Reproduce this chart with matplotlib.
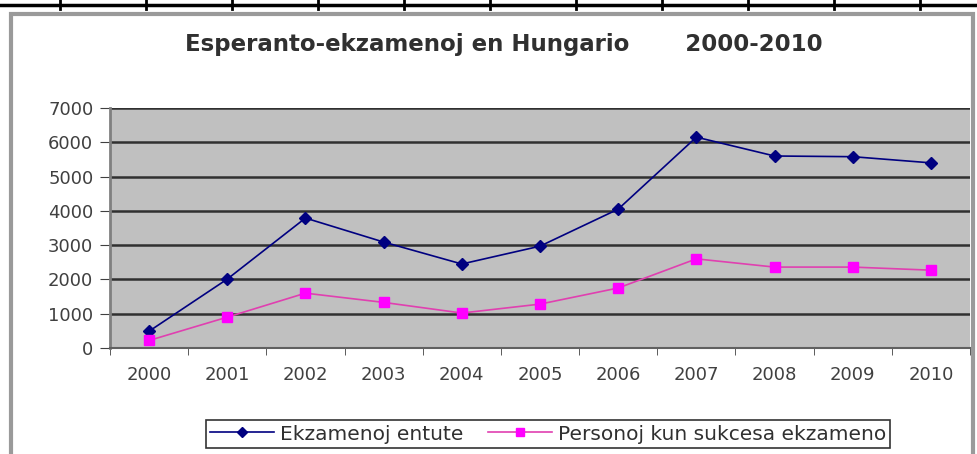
import matplotlib
matplotlib.use("Agg")
import matplotlib.pyplot as plt
from matplotlib.lines import Line2D
from matplotlib.patches import Rectangle

# data
years = ["2000", "2001", "2002", "2003", "2004", "2005",
         "2006", "2007", "2008", "2009", "2010"]
ekzamenoj = [490, 2010, 3790, 3090, 2450, 2970, 4050, 6150, 5600, 5580, 5400]
personoj = [220, 900, 1600, 1330, 1020, 1280, 1750, 2600, 2360, 2360, 2270]
yticks = [0, 1000, 2000, 3000, 4000, 5000, 6000, 7000]

W, H = 977, 454
fig = plt.figure(figsize=(W / 100, H / 100), dpi=100)
fig.patch.set_facecolor("white")

def px(x, y):
    # pixel coords (top-left origin) -> figure fraction
    return x / W, 1 - y / H

# spreadsheet grid on top of the picture
fig.add_artist(Line2D([0, 1], [1 - 5 / H, 1 - 5 / H], color="black", lw=2.5))
for xt in range(60, W, 86):
    fig.add_artist(Line2D([xt / W, xt / W], [1 - 9 / H, 1], color="black", lw=2))

# chart frame
x0, y0 = px(11, 470)
x1, y1 = px(973, 14)
fig.add_artist(Rectangle((x0, y0), x1 - x0, y1 - y0, transform=fig.transFigure,
                         facecolor="white", edgecolor="#9a9a9a", lw=3, zorder=0))

l, t = px(110, 108)
r, b = px(970, 348)
ax = fig.add_axes([l, b, r - l, t - b])
ax.set_facecolor("#c0c0c0")

xs = range(len(years))
ax.plot(xs, ekzamenoj, color="#000080", lw=1.2, marker="D", ms=6,
        label="Ekzamenoj entute")
ax.plot(xs, personoj, color="#e040b0", lw=1.2, marker="s", ms=7,
        markerfacecolor="#ff00ff", markeredgecolor="#ff00ff",
        label="Personoj kun sukcesa ekzameno")

ax.set_xlim(-0.5, len(years) - 0.5)
ax.set_ylim(0, 7000)
ax.set_yticks(yticks)
ax.set_xticks(xs)
ax.set_xticklabels(years)
ax.grid(axis="y", color="#303030", lw=1.8)
ax.set_axisbelow(True)
for s in ["top", "right"]:
    ax.spines[s].set_visible(False)
ax.spines["left"].set_color("#808080")
ax.spines["bottom"].set_color("#606060")
ax.spines["left"].set_linewidth(2)
ax.spines["bottom"].set_linewidth(1.5)
ax.tick_params(axis="y", length=7, color="#404040", labelcolor="#404040",
               labelsize=13, pad=5)
ax.tick_params(axis="x", length=0, labelcolor="#404040", labelsize=13, pad=13)
# minor ticks between categories
ax.set_xticks([i - 0.5 for i in range(len(years) + 1)], minor=True)
ax.tick_params(axis="x", which="minor", length=5, color="#404040")

fig.text(0.516, 1 - 45 / H, "Esperanto-ekzamenoj en Hungario       2000-2010",
         ha="center", va="center", fontsize=16.5, fontweight="bold", color="#303030")

lx, ly = px(548, 434)
leg = ax.legend(loc="center", bbox_to_anchor=(lx, ly), bbox_transform=fig.transFigure,
                ncol=2, fontsize=14.5, frameon=True, fancybox=False,
                handlelength=3.2, handletextpad=0.3, columnspacing=1.2,
                borderpad=0.2, labelcolor="#303030", markerscale=0.8)
leg.get_frame().set_edgecolor("black")
leg.get_frame().set_linewidth(1.2)

fig.savefig("out.png", dpi=100)
